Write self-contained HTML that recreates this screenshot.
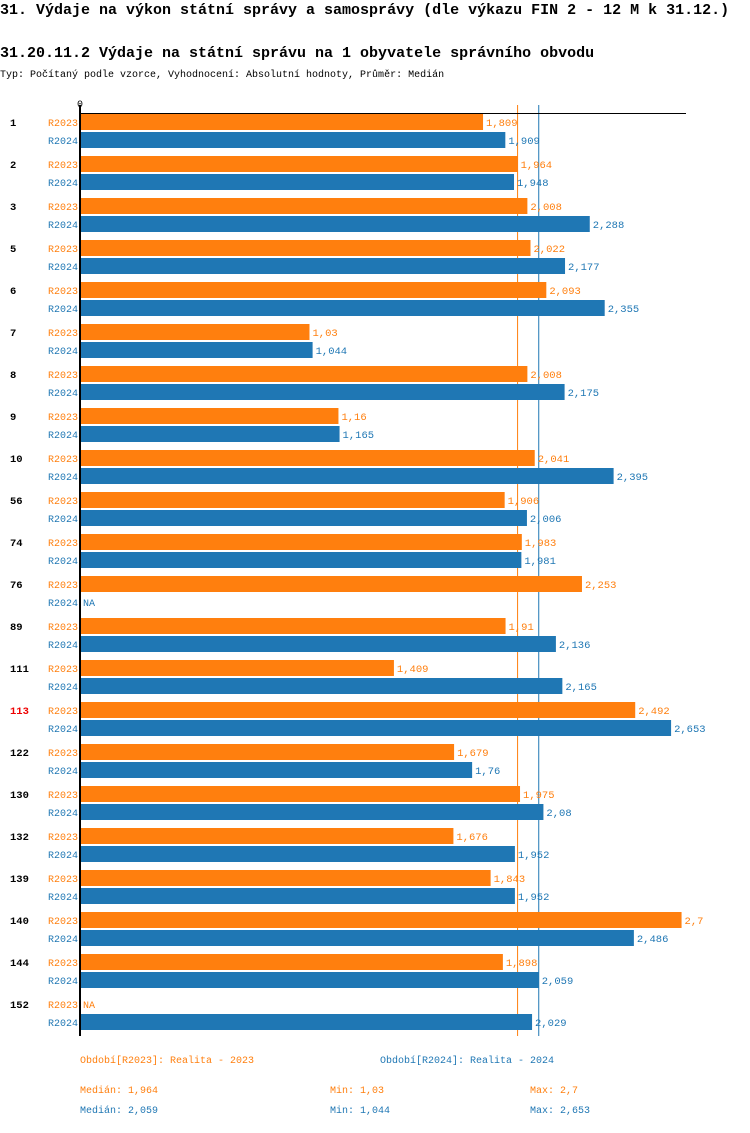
<!DOCTYPE html>
<html><head><meta charset="utf-8"><style>
body{margin:0;background:#fff;width:750px;height:1128px;overflow:hidden}
svg text{font-family:"Liberation Mono","DejaVu Sans Mono",monospace}
</style></head><body>
<svg id="c" width="750" height="1128" xmlns="http://www.w3.org/2000/svg">
<text x="0" y="14" font-size="15" font-weight="bold" fill="#000">31. Výdaje na výkon státní správy a samosprávy (dle výkazu FIN 2 - 12 M k 31.12.)</text>
<text x="0" y="57" font-size="15" font-weight="bold" fill="#000">31.20.11.2 Výdaje na státní správu na 1 obyvatele správního obvodu</text>
<text x="0" y="77" font-size="10" fill="#000">Typ: Počítaný podle vzorce, Vyhodnocení: Absolutní hodnoty, Průměr: Medián</text>
<text x="77" y="107" font-size="10" fill="#000">0</text>
<g id="bars"></g>
<text x="80" y="1063" font-size="10" fill="#ff7f0e">Období[R2023]: Realita - 2023</text>
<text x="380" y="1063" font-size="10" fill="#1f77b4">Období[R2024]: Realita - 2024</text>
<text x="80" y="1093" font-size="10" fill="#ff7f0e">Medián: 1,964</text>
<text x="330" y="1093" font-size="10" fill="#ff7f0e">Min: 1,03</text>
<text x="530" y="1093" font-size="10" fill="#ff7f0e">Max: 2,7</text>
<text x="80" y="1113" font-size="10" fill="#1f77b4">Medián: 2,059</text>
<text x="330" y="1113" font-size="10" fill="#1f77b4">Min: 1,044</text>
<text x="530" y="1113" font-size="10" fill="#1f77b4">Max: 2,653</text>
</svg>
<script>
const categories=["1","2","3","5","6","7","8","9","10","56","74","76","89","111","113","122","130","132","139","140","144","152"];
const r2023=[1.809,1.964,2.008,2.022,2.093,1.03,2.008,1.16,2.041,1.906,1.983,2.253,1.91,1.409,2.492,1.679,1.975,1.676,1.843,2.7,1.898,null];
const r2024=[1.909,1.948,2.288,2.177,2.355,1.044,2.175,1.165,2.395,2.006,1.981,null,2.136,2.165,2.653,1.76,2.08,1.952,1.952,2.486,2.059,2.029];
const medians=[1.964,2.059];
const highlight="113";
const NS="http://www.w3.org/2000/svg";
const g=document.getElementById('bars');
const X0=80,K=222.8;
const xs=v=>X0+v*K;
const rowY=i=>113+42*i;
function el(t,a,txt){const e=document.createElementNS(NS,t);for(const k in a)e.setAttribute(k,a[k]);if(txt!=null)e.textContent=txt;g.appendChild(e);return e;}
const fmt=v=>String(v).replace('.',',');
const cols=['#ff7f0e','#1f77b4'];
const names=['R2023','R2024'];
const bottom=rowY(categories.length)-1;
medians.forEach((m,s)=>{
  const ln=el('line',{x1:xs(m),x2:xs(m),y1:105,y2:bottom,stroke:cols[s],'stroke-width':1});
  
  
});
categories.forEach((c,i)=>{
  const y=rowY(i);
  const t=el('text',{x:10,y:y+13,'font-size':10.5,'font-weight':'bold',fill:c===highlight?'#e00':'#000'},c);
  
  
  [r2023,r2024].forEach((arr,s)=>{
    const by=y+1+s*18;
    const l=el('text',{x:78,y:by+12,'font-size':10,'text-anchor':'end',fill:cols[s]},names[s]);
    
    
    const v=arr[i];
    if(v==null){
      const n=el('text',{x:X0+3,y:by+12,'font-size':10,fill:cols[s]},'NA');
      
      
      return;
    }
    const r=el('rect',{x:X0,y:by,width:xs(v)-X0,height:16,fill:cols[s]});
    
    
    const vt=el('text',{x:xs(v)+3,y:by+12,'font-size':10.5,fill:cols[s]},fmt(v));
    
    
  });
});
const ax=el('line',{x1:X0,x2:686,y1:113.5,y2:113.5,stroke:'#000','stroke-width':1});


const ay=el('line',{x1:X0,x2:X0,y1:105,y2:bottom,stroke:'#000','stroke-width':2});


</script>
</body></html>
